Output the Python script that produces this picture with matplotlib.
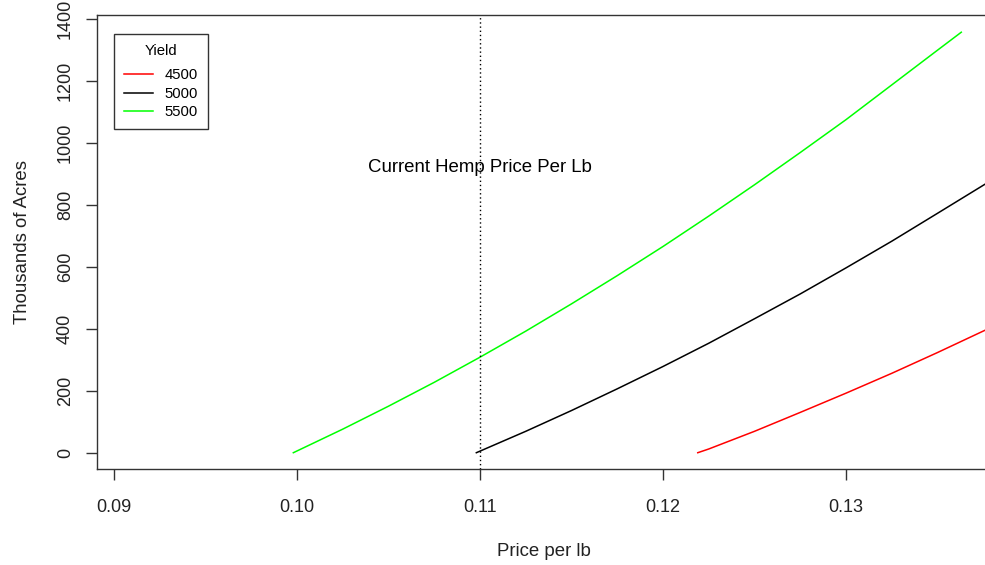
import matplotlib
matplotlib.use("Agg")
import matplotlib.pyplot as plt

# valores (precio por lb -> miles de acres)
price_4500 = [0.1219, 0.1225, 0.125, 0.1275, 0.130, 0.1325, 0.135, 0.1376]
acres_4500 = [0, 12, 69, 130, 192, 256, 323, 395]

price_5000 = [0.1098, 0.1125, 0.115, 0.1175, 0.120, 0.1225, 0.125, 0.1275,
              0.130, 0.1325, 0.135, 0.1376]
acres_5000 = [0, 69, 136, 206, 278, 353, 432, 512, 596, 682, 772, 866]

price_5500 = [0.0998, 0.1025, 0.105, 0.1075, 0.110, 0.1125, 0.115, 0.1175,
              0.120, 0.1225, 0.125, 0.1275, 0.130, 0.1325, 0.135, 0.1363]
acres_5500 = [0, 76, 150, 227, 308, 392, 480, 571, 665, 763, 864, 968,
              1074, 1186, 1298, 1356]

current_price = 0.11
x_ticks = [0.09, 0.10, 0.11, 0.12, 0.13]
y_ticks = [0, 200, 400, 600, 800, 1000, 1200, 1400]

plt.rcParams['font.family'] = ['Liberation Sans', 'DejaVu Sans']

W, H = 985, 565
fig = plt.figure(figsize=(W / 100, H / 100), dpi=100)
# caja del grafico en pixeles: izq 97, abajo 469.3, arriba 15 (derecha fuera de la imagen)
ax = fig.add_axes([97 / W, (H - 469.3) / H, (990 - 97) / W, (469.3 - 15) / H])

ax.plot(price_4500, acres_4500, color='#ff0000', lw=1.1)
ax.plot(price_5000, acres_5000, color='black', lw=1.1)
ax.plot(price_5500, acres_5500, color='#00ff00', lw=1.1)

ax.axvline(current_price, color='black', lw=1.0, linestyle=(0, (1, 2)))
ax.text(current_price, 920, 'Current Hemp Price Per Lb', ha='center', va='center',
        fontsize=13.4)

ax.set_xlim(0.089071, 0.137869)
ax.set_ylim(-53.5, 1411.5)
ax.set_xticks(x_ticks)
ax.set_xticklabels([f'{v:.2f}' for v in x_ticks])
ax.set_yticks(y_ticks)
ax.set_yticklabels([str(v) for v in y_ticks], rotation=90, va='center')
ax.tick_params(axis='both', length=8, width=1, labelsize=13,
               color='#333333', labelcolor='#222222')
ax.tick_params(axis='x', pad=13.5)
ax.tick_params(axis='y', pad=8.5)
for s in ax.spines.values():
    s.set_linewidth(1.0)
    s.set_color('#333333')

ax.set_xlabel('Price per lb', fontsize=13.4, labelpad=19.5, color='#222222')
ax.set_ylabel('Thousands of Acres', fontsize=13.4, labelpad=19, color='#222222')

leg = ax.legend(['4500', '5000', '5500'], title='Yield', loc='upper left',
                bbox_to_anchor=(114 / W, 1 - 34 / H), bbox_transform=fig.transFigure,
                borderaxespad=0, fontsize=10.7, title_fontsize=10.7,
                handlelength=2.0, handletextpad=0.75, labelspacing=0.3,
                borderpad=0.65, fancybox=False, framealpha=1, edgecolor='#333333')
leg.get_frame().set_linewidth(1.0)
# un poco mas de espacio entre el titulo y las entradas
leg._legend_box.sep = 7.8

fig.savefig('out.png', dpi=100)
